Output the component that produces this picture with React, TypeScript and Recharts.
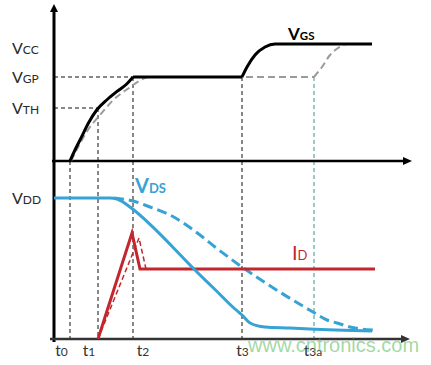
import React from 'react';
import { ComposedChart, Line, XAxis, YAxis, ReferenceLine, ReferenceDot } from 'recharts';

// ---- time axis (arbitrary time units) ----
const tickNames = ['t0', 't1', 't2', 't3', 't3a'];
const tickTimes = [1.6, 4.4, 7.9, 18.8, 26.0];
const tickShift = [-8.5, -9, 10, 0.5, -1];

// ---- gate voltage levels ----
const gateNames = ['TH', 'GP', 'CC'];
const gateLevels = [5.3, 8.4, 11.3];
const VTH = gateLevels[0];
const VGP = gateLevels[1];

// ---- drain level ----
const VDD = 14.1;

// ---- VGS (solid, actual): rise to plateau, plateau, final rise ----
const vgsRiseT = [1.6, 2.1, 2.77, 3.43, 4.27, 5.27, 6.27, 7.27, 7.9];
const vgsRiseV = [0, 1.1, 2.43, 3.77, 5.1, 6.1, 6.93, 7.7, 8.4];
const vgsPlateauT = [7.9, 18.8];
const vgsPlateauV = [8.4, 8.4];
const vgsFinalT = [18.8, 19.3, 20.1, 21.1, 22.1, 31.8];
const vgsFinalV = [8.4, 9.4, 10.6, 11.4, 11.7, 11.7];

// ---- VGS (dashed, slower) ----
const vgs2RiseT = [1.7, 2.43, 3.27, 4.6, 5.93, 7.6, 8.5, 9.3];
const vgs2RiseV = [0, 1.43, 2.93, 4.6, 6.1, 7.37, 8.0, 8.4];
const vgs2PlateauT = [9.3, 26.0];
const vgs2PlateauV = [8.4, 8.4];
const vgs2FinalT = [26.0, 26.8, 27.6, 28.4, 29.3, 31.8];
const vgs2FinalV = [8.4, 9.4, 10.6, 11.3, 11.7, 11.7];

// ---- VDS (solid) ----
const vdsT = [0, 5.6, 6.3, 6.9, 7.6, 14.6, 16.1, 18.1, 18.8, 19.6, 21.1, 23.6, 25.6, 31.8];
const vdsV = [14.1, 14.1, 14.0, 13.7, 13.2, 6.4, 4.95, 3.0, 2.4, 1.6, 1.2, 1.1, 1.0, 0.8];

// ---- VDS (dashed) ----
const vds2T = [6.0, 7.9, 9.6, 11.6, 14.6, 16.1, 18.8, 25.9, 27.3, 28.3, 29.6, 31.9];
const vds2V = [14.1, 13.8, 13.2, 12.4, 10.4, 9.2, 7.2, 2.7, 1.9, 1.6, 1.2, 0.9];

// ---- ID (solid) ----
const idT = [4.4, 7.8, 8.6, 32.1];
const idV = [0, 10.6, 7.0, 7.0];

// ---- ID (dashed) ----
const id2T = [4.4, 8.5, 9.2];
const id2V = [0, 10.1, 7.0];

const zip = (ts: number[], vs: number[]) => ts.map((t, i) => ({ t, v: vs[i] }));

const X_DOMAIN: [number, number] = [0, 36];
const G_DOMAIN: [number, number] = [-17.8, 15.7];
const D_DOMAIN: [number, number] = [0, 33.5];
const G_BOTTOM = G_DOMAIN[0];

const FONT = 'Lato, "Open Sans", sans-serif';
const BLUE = '#36a3d4';
const RED = '#c1272d';

function LevelLabel({ x, y, sub }: { x: number; y: number; sub: string }) {
  return (
    <text x={x - 42} y={y + 5.5} textAnchor="start" fontFamily={FONT} fill="#2a2a2a">
      <tspan fontSize={16}>V</tspan>
      <tspan fontSize={12}>{sub}</tspan>
    </text>
  );
}

function TimeTick(props: any) {
  const { x, y, payload } = props;
  const i = tickTimes.indexOf(payload.value);
  const name = tickNames[i] || '';
  return (
    <text x={x + tickShift[i]} y={y + 17} textAnchor="middle" fontFamily={FONT} fill="#333">
      <tspan fontSize={15.5}>{name.slice(0, 1)}</tspan>
      <tspan fontSize={12}>{name.slice(1)}</tspan>
    </text>
  );
}

const upArrow = (p: any) => (
  <path d={`M${p.cx},${p.cy} L${p.cx - 4},${p.cy + 8} L${p.cx + 4},${p.cy + 8} Z`} fill="#000" />
);
const rightArrow = (color: string) => (p: any) => (
  <path d={`M${p.cx},${p.cy} L${p.cx - 9},${p.cy - 4} L${p.cx - 9},${p.cy + 4} Z`} fill={color} />
);

const seriesLabel = (main: string, sub: string, color: string, big: number, small: number, weight: number) => (p: any) => (
  <text x={p.cx} y={p.cy} fontFamily={FONT} fill={color} fontWeight={weight}>
    <tspan fontSize={big}>{main}</tspan>
    <tspan fontSize={small}>{sub}</tspan>
  </text>
);

function Curve({ data, axis, color, width, dashArray, kind }: any) {
  return null;
}

export default function App() {
  const dash = { stroke: '#111', strokeWidth: 1, strokeDasharray: '4 3' };
  const gray = { stroke: '#9a9a9a', strokeWidth: 2, strokeDasharray: '7 4' };
  const black = { stroke: '#000', strokeWidth: 3 };
  const common = { dataKey: 'v', dot: false, isAnimationActive: false } as const;
  return (
    <div style={{ position: 'absolute', left: 0, top: 0, width: 431, height: 365, background: '#fff' }}>
      <ComposedChart width={431} height={365} margin={{ top: 4, right: 17, bottom: 0, left: 54 }}>
        <XAxis
          dataKey="t"
          type="number"
          domain={X_DOMAIN}
          allowDataOverflow
          ticks={tickTimes}
          interval={0}
          tick={<TimeTick />}
          axisLine={false}
          tickLine={false}
          tickSize={0}
          tickMargin={0}
          height={26}
        />
        <YAxis yAxisId="g" type="number" domain={G_DOMAIN} allowDataOverflow hide />
        <YAxis yAxisId="d" type="number" domain={D_DOMAIN} allowDataOverflow hide />

        {/* guide lines */}
        <ReferenceLine yAxisId="g" ifOverflow="visible" segment={[{ x: 0, y: VGP }, { x: tickTimes[2], y: VGP }]} {...dash} />
        <ReferenceLine yAxisId="g" ifOverflow="visible" segment={[{ x: 0, y: VTH }, { x: tickTimes[1], y: VTH }]} {...dash} />
        <ReferenceLine yAxisId="g" ifOverflow="visible" segment={[{ x: tickTimes[0], y: 0 }, { x: tickTimes[0], y: G_BOTTOM }]} {...dash} />
        <ReferenceLine yAxisId="g" ifOverflow="visible" segment={[{ x: tickTimes[1], y: VTH }, { x: tickTimes[1], y: G_BOTTOM }]} {...dash} />
        <ReferenceLine yAxisId="g" ifOverflow="visible" segment={[{ x: tickTimes[2], y: VGP }, { x: tickTimes[2], y: G_BOTTOM }]} {...dash} />
        <ReferenceLine yAxisId="g" ifOverflow="visible" segment={[{ x: tickTimes[3], y: VGP }, { x: tickTimes[3], y: G_BOTTOM }]} {...dash} />
        <ReferenceLine yAxisId="g" ifOverflow="visible" segment={[{ x: tickTimes[4], y: VGP }, { x: tickTimes[4], y: G_BOTTOM }]} stroke="#3f8f8f" strokeWidth={1} strokeDasharray="4 3" />

        {/* axes */}
        <ReferenceLine yAxisId="g" ifOverflow="visible" segment={[{ x: 0, y: 15.0 }, { x: 0, y: G_BOTTOM - 0.3 }]} stroke="#000" strokeWidth={3} />
        <ReferenceDot yAxisId="g" ifOverflow="visible" x={0} y={15.7} shape={upArrow} />
        <ReferenceLine yAxisId="g" ifOverflow="visible" segment={[{ x: -0.2, y: 0 }, { x: 35.0, y: 0 }]} stroke="#000" strokeWidth={2.5} />
        <ReferenceDot yAxisId="g" ifOverflow="visible" x={35.8} y={0} shape={rightArrow('#000')} />
        <ReferenceLine yAxisId="d" ifOverflow="visible" segment={[{ x: -0.4, y: 0 }, { x: 34.8, y: 0 }]} stroke="#333" strokeWidth={2.5} />
        <ReferenceDot yAxisId="d" ifOverflow="visible" x={35.6} y={0} shape={rightArrow('#333')} />

        {/* VGS dashed (slower) */}
        <Line yAxisId="g" data={zip(vgs2RiseT, vgs2RiseV)} type="monotone" {...gray} {...common} />
        <Line yAxisId="g" data={zip(vgs2PlateauT, vgs2PlateauV)} type="linear" {...gray} {...common} />
        <Line yAxisId="g" data={zip(vgs2FinalT, vgs2FinalV)} type="monotone" {...gray} {...common} />
        {/* VGS solid */}
        <Line yAxisId="g" data={zip(vgsRiseT, vgsRiseV)} type="monotone" {...black} {...common} />
        <Line yAxisId="g" data={zip(vgsPlateauT, vgsPlateauV)} type="linear" {...black} {...common} />
        <Line yAxisId="g" data={zip(vgsFinalT, vgsFinalV)} type="monotone" {...black} {...common} />

        {/* VDS / ID */}
        <Line yAxisId="d" data={zip(vds2T, vds2V)} type="monotone" stroke={BLUE} strokeWidth={3} strokeDasharray="10 5" {...common} />
        <Line yAxisId="d" data={zip(id2T, id2V)} type="linear" stroke={RED} strokeWidth={1.5} strokeDasharray="5 3" {...common} />
        <Line yAxisId="d" data={zip(idT, idV)} type="linear" stroke={RED} strokeWidth={3} {...common} />
        <Line yAxisId="d" data={zip(vdsT, vdsV)} type="monotone" stroke={BLUE} strokeWidth={3} {...common} />

        {/* level labels */}
        {gateLevels.map((lv, i) => (
          <ReferenceDot
            key={gateNames[i]}
            yAxisId="g"
            ifOverflow="visible"
            x={0}
            y={lv}
            shape={(p: any) => <LevelLabel x={p.cx} y={p.cy} sub={gateNames[i]} />}
          />
        ))}
        <ReferenceDot yAxisId="d" ifOverflow="visible" x={0} y={VDD} shape={(p: any) => <LevelLabel x={p.cx} y={p.cy} sub="DD" />} />

        {/* series labels */}
        <ReferenceDot yAxisId="g" ifOverflow="visible" x={23.4} y={12.1} shape={seriesLabel('V', 'GS', '#000', 17, 11.5, 700)} />
        <ReferenceDot yAxisId="d" ifOverflow="visible" x={8.1} y={14.6} shape={seriesLabel('V', 'DS', BLUE, 20, 13, 700)} />
        <ReferenceDot yAxisId="d" ifOverflow="visible" x={23.8} y={7.9} shape={seriesLabel('I', 'D', RED, 20, 13, 400)} />
      </ComposedChart>
      <div
        style={{
          position: 'absolute',
          left: 248,
          top: 334,
          fontFamily: '"Liberation Sans", Arial, sans-serif',
          fontSize: 20,
          color: 'rgba(100, 190, 100, 0.6)',
          pointerEvents: 'none',
          whiteSpace: 'nowrap',
        }}
      >
        www.cntronics.com
      </div>
    </div>
  );
}
